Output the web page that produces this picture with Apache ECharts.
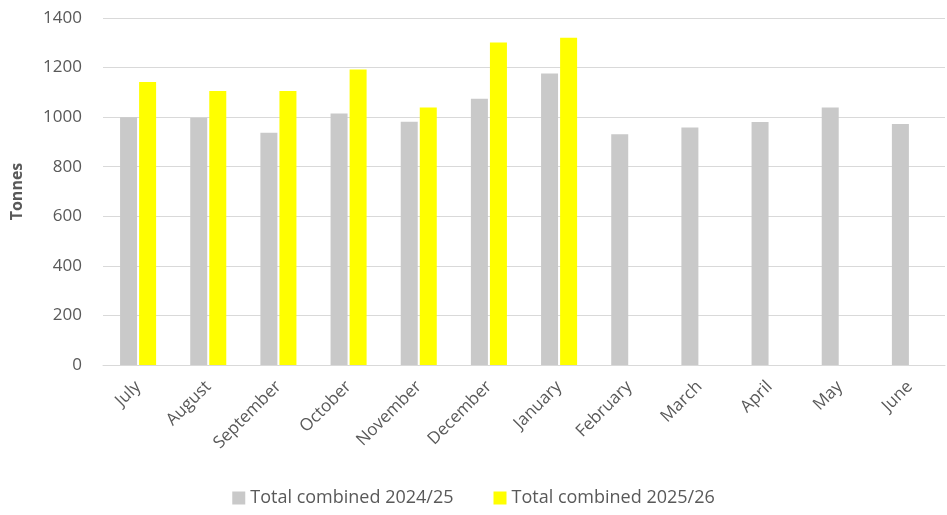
<!DOCTYPE html>
<html><head><meta charset="utf-8">
<script src="https://cdn.jsdelivr.net/npm/echarts@6/dist/echarts.min.js"></script>
<style>html,body{margin:0;padding:0;background:#fff}#c{width:947px;height:515px}</style>
</head><body><div id="c"></div>
<script>
const categories = ['July','August','September','October','November','December','January','February','March','April','May','June'];
const series2425 = [1000, 998, 937, 1015, 981, 1074, 1176, 931, 958, 980, 1039, 972];
const series2526 = [1142, 1105, 1105, 1192, 1039, 1301, 1320, null, null, null, null, null];
const yTicks = [0, 200, 400, 600, 800, 1000, 1200, 1400];
const names = ['Total combined 2024/25', 'Total combined 2025/26'];

const chart = echarts.init(document.getElementById('c'));
const font = 'Open Sans, Liberation Sans, sans-serif';
chart.setOption({
  animation: false,
  grid: {left: 103, right: 2, top: 18, bottom: 150, containLabel: false},
  legend: {
    bottom: 3, left: 'center', itemWidth: 13, itemHeight: 13, itemGap: 40,
    icon: 'rect',
    textStyle: {fontFamily: font, fontSize: 18, color: '#595959'},
    data: names
  },
  xAxis: {
    type: 'category', data: categories,
    axisLine: {lineStyle: {color: '#d9d9d9'}},
    axisTick: {show: false},
    axisLabel: {rotate: 45, fontFamily: font, fontSize: 17, color: '#595959', margin: 19, interval: 0}
  },
  yAxis: {
    type: 'value', min: yTicks[0], max: yTicks[yTicks.length-1], interval: 200,
    name: 'Tonnes', nameLocation: 'middle', nameGap: 78,
    nameTextStyle: {fontFamily: font, fontSize: 16, fontWeight: 'bold', color: '#595959'},
    axisLine: {show: false}, axisTick: {show: false},
    splitLine: {lineStyle: {color: '#d9d9d9', width: 1}},
    axisLabel: {fontFamily: font, fontSize: 17, color: '#595959', margin: 21, formatter: v => String(v)}
  },
  series: [
    {name: names[0], type: 'bar', data: series2425, barWidth: 17, barGap: '12%', itemStyle: {color: '#c9c9c9'}},
    {name: names[1], type: 'bar', data: series2526, barWidth: 17, itemStyle: {color: '#ffff00'}}
  ]
});
</script></body></html>
